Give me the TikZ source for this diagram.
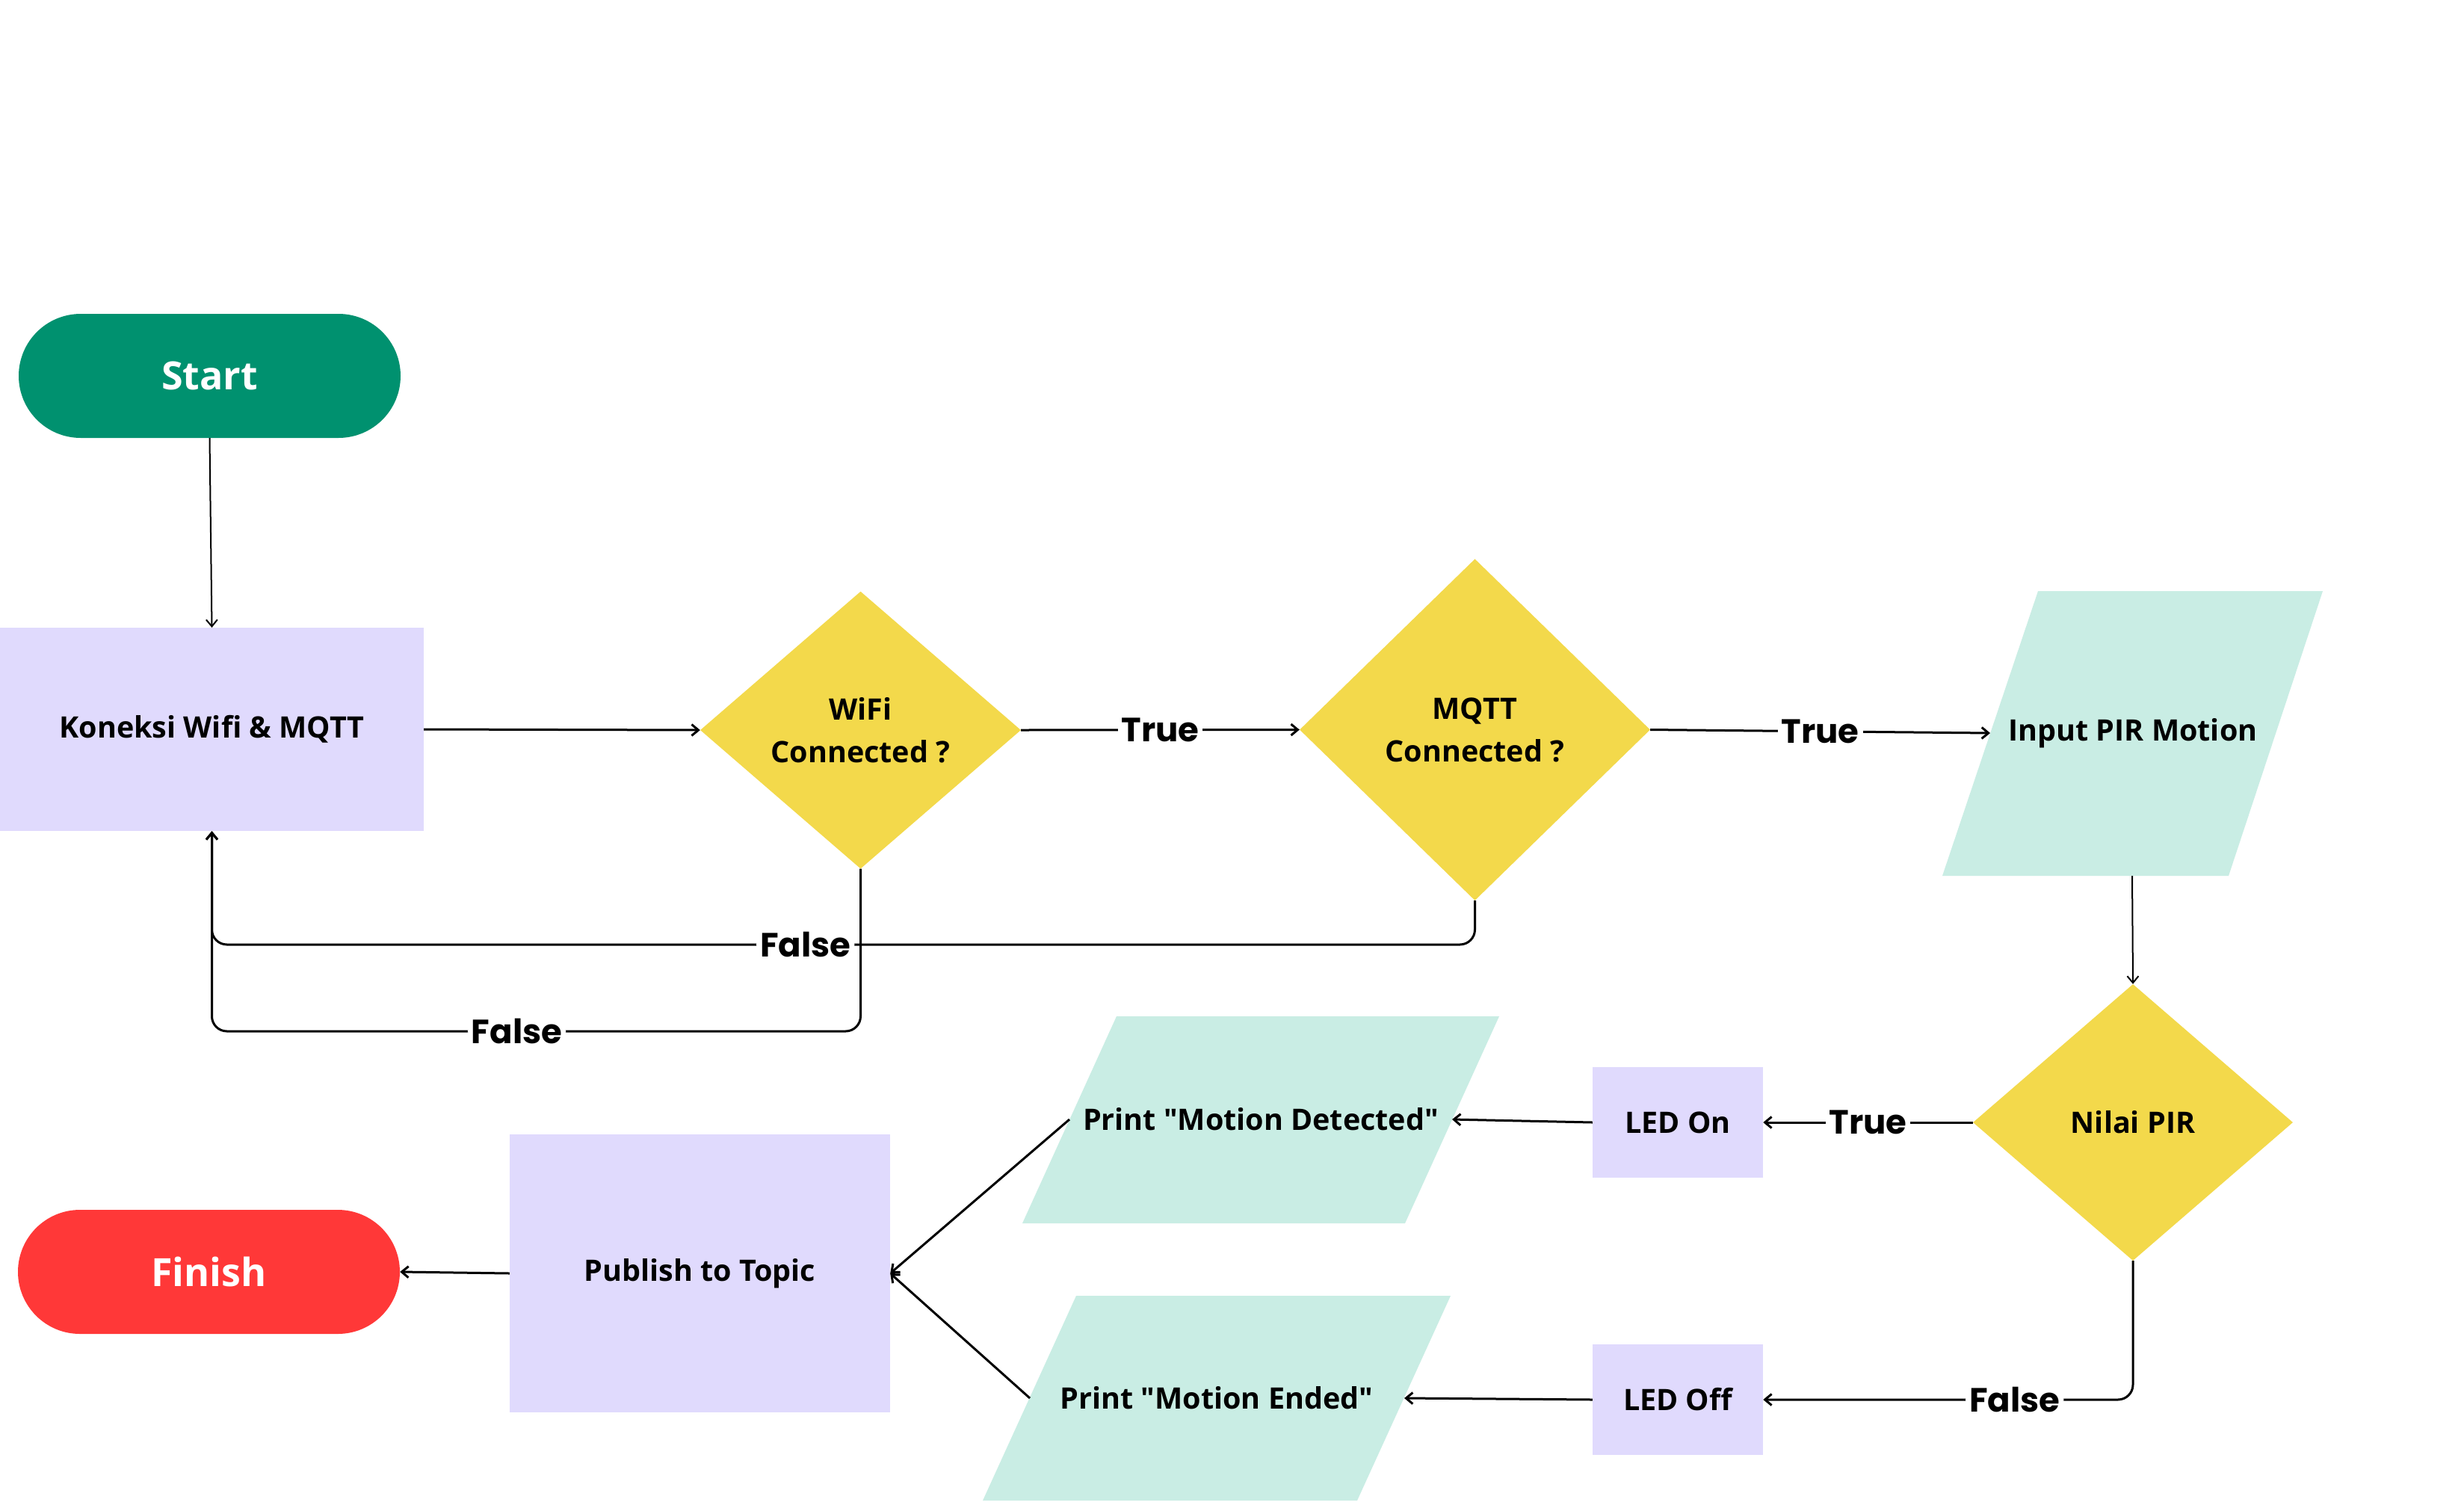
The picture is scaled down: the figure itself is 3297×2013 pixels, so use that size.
\documentclass[tikz,border=0pt]{standalone}
\usepackage{fontspec}
\newfontfamily\osfont{Open Sans}
\newfontfamily\lblfont{Poppins}
\usetikzlibrary{shapes.geometric,arrows.meta}
\definecolor{startgreen}{RGB}{0,145,111}
\definecolor{finishred}{RGB}{255,56,56}
\definecolor{lav}{RGB}{224,218,253}
\definecolor{yel}{RGB}{243,217,75}
\definecolor{mint}{RGB}{201,237,228}
\begin{document}
\begin{tikzpicture}[x=1pt,y=-1pt,
  term/.style={rounded corners=83pt, minimum width=511pt, minimum height=166pt, inner sep=0, text=white, font=\osfont\fontsize{52}{60}\selectfont\bfseries},
  proc/.style={fill=lav, inner sep=0, font=\osfont\fontsize{39.5}{46}\selectfont\bfseries},
  dec/.style={diamond, fill=yel, inner sep=0, align=center, font=\osfont\fontsize{39.5}{57}\selectfont\bfseries},
  txt/.style={inner sep=0, font=\osfont\fontsize{39.5}{46}\selectfont\bfseries},
  lbl/.style={fill=white, inner xsep=5pt, inner ysep=0pt, font=\lblfont\fontsize{45}{50}\selectfont\bfseries},
  conn/.style={line width=3pt, -{Straight Barb[length=9pt,width=15pt]}},
  thinconn/.style={line width=2pt, -{Straight Barb[length=9pt,width=15pt]}},
]
\useasboundingbox (0,0) rectangle (3297,2013);
\fill[white] (0,0) rectangle (3297,2013);

% nodes
\node[term, fill=startgreen] (start) at (280.5,503) {Start};
\node[proc, minimum width=567pt, minimum height=272pt] (kon) at (283.5,976) {Koneksi Wifi \& MQTT};
\node[dec, minimum width=429pt, minimum height=371pt] (wifi) at (1151.5,977) {WiFi\\Connected ?};
\node[dec, minimum width=469pt, minimum height=457pt] (mqtt) at (1973.5,976.5) {MQTT\\Connected ?};

\fill[mint] (2727,791) -- (3108,791) -- (2982,1172) -- (2599,1172) -- cycle;
\node[txt] (inp) at (2854,981) {Input PIR Motion};
\coordinate (inL) at (2663,981);
\coordinate (inB) at (2853,1172);

\node[dec, minimum width=428pt, minimum height=370pt] (nilai) at (2854,1502) {Nilai PIR};
\node[proc, minimum width=228pt, minimum height=148pt] (ledon) at (2245,1502) {LED On};
\node[proc, minimum width=228pt, minimum height=148pt] (ledoff) at (2245,1873) {LED Off};

\fill[mint] (1494,1360) -- (2006,1360) -- (1880,1637) -- (1368,1637) -- cycle;
\node[txt] (det) at (1687,1498) {Print "Motion Detected"};
\coordinate (detR) at (1943,1498);
\coordinate (detL) at (1431,1498);

\fill[mint] (1440,1734) -- (1941,1734) -- (1816,2008) -- (1315,2008) -- cycle;
\node[txt] (ended) at (1628,1871) {Print "Motion Ended"};
\coordinate (endR) at (1879,1871);
\coordinate (endL) at (1378,1871);

\node[proc, minimum width=509pt, minimum height=372pt] (pub) at (936.5,1704) {Publish to Topic};
\node[term, fill=finishred] (finish) at (279.5,1702) {Finish};

% connectors
\draw[thinconn] (start.south) -- (kon.north);
\draw[conn] (kon.east) -- (wifi.west);
\draw[conn] (wifi.east) -- node[lbl]{True} (mqtt.west);
\draw[conn] (mqtt.east) -- node[lbl]{True} (inL);
\draw[thinconn] (inB) -- (nilai.north);
\draw[conn] (nilai.west) -- node[lbl]{True} (ledon.east);
\draw[conn, rounded corners=20pt] (nilai.south) |- node[lbl, pos=0.66]{False} (ledoff.east);
\draw[conn] (ledon.west) -- (detR);
\draw[conn] (ledoff.west) -- (endR);
\draw[conn] (detL) -- (pub.east);
\draw[conn] (endL) -- (pub.east);
\draw[conn] (pub.west) -- (finish.east);
\draw[conn, rounded corners=20pt] (wifi.south) -- (wifi.south |- 0,1380) -- node[lbl, pos=.53]{False} (kon.south |- 0,1380) -- (kon.south);
\draw[conn, rounded corners=20pt] (mqtt.south) -- (mqtt.south |- 0,1264) -- node[lbl, pos=.53]{False} (kon.south |- 0,1264) -- (kon.south);
\end{tikzpicture}
\end{document}
